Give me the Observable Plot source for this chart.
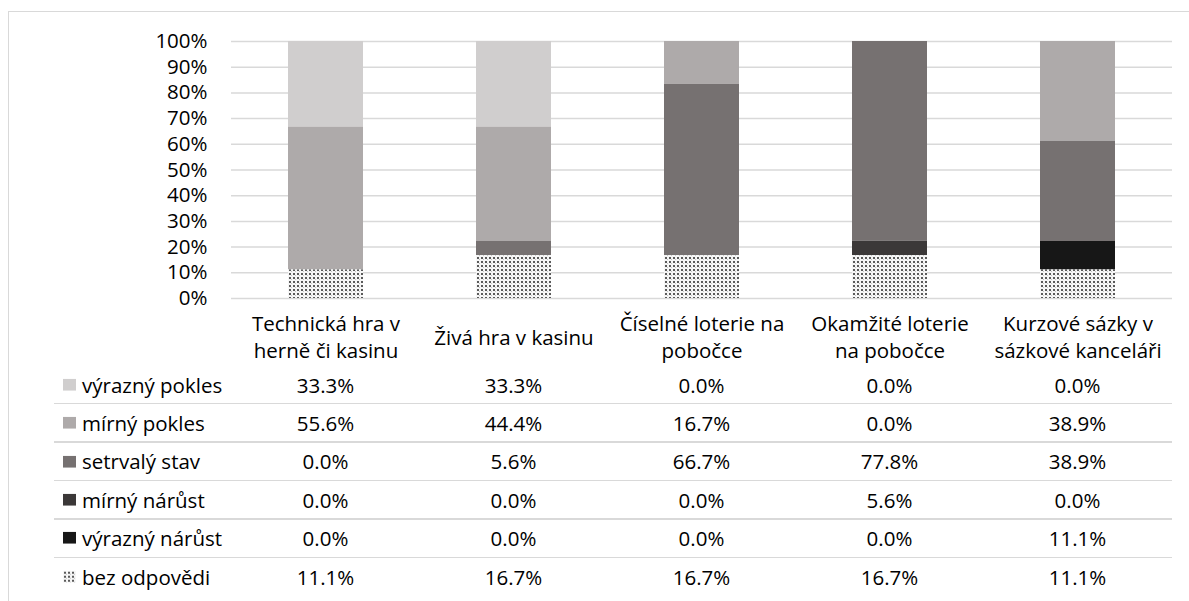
<!DOCTYPE html>
<html>
<head>
<meta charset="utf-8">
<script src="https://cdn.jsdelivr.net/npm/d3@7"></script>
<script src="https://cdn.jsdelivr.net/npm/@observablehq/plot@0.6"></script>
<style>
  html, body { margin: 0; padding: 0; background: #fff; overflow: hidden; }
  #wrap { position: relative; width: 1189px; height: 601px; font-family: "Open Sans", sans-serif; color: #000; }
  #frame { position: absolute; left: 8px; top: 11px; width: 1300px; height: 700px; border-left: 1.5px solid #d9d9d9; border-top: 1.5px solid #d9d9d9; }
  #chart { position: absolute; left: 0; top: 0; }
  .cell { position: absolute; font-size: 20.5px; line-height: 1; white-space: nowrap; transform: translate(-50%, -50%); }
  .rowlabel { position: absolute; font-size: 20.5px; line-height: 1; white-space: nowrap; transform: translateY(-50%); display: flex; align-items: center; }
  .sep { position: absolute; height: 1.5px; background: #d9d9d9; }
</style>
</head>
<body>
<div id="wrap"><div id="frame"></div><div id="chart"></div></div>
<script>
const categories = [
  "Technická hra v\nherně či kasinu",
  "Živá hra v kasinu",
  "Číselné loterie na\npobočce",
  "Okamžité loterie\nna pobočce",
  "Kurzové sázky v\nsázkové kanceláři"
];
const series = ["výrazný pokles", "mírný pokles", "setrvalý stav", "mírný nárůst", "výrazný nárůst", "bez odpovědi"];
const seriesColors = ["#d0cece", "#aeaaaa", "#767171", "#3b3838", "#171717", "url(#dots)"];
const vyraznyPokles = [33.3, 33.3, 0.0, 0.0, 0.0];
const mirnyPokles   = [55.6, 44.4, 16.7, 0.0, 38.9];
const setrvalyStav  = [0.0, 5.6, 66.7, 77.8, 38.9];
const mirnyNarust   = [0.0, 0.0, 0.0, 5.6, 0.0];
const vyraznyNarust = [0.0, 0.0, 0.0, 0.0, 11.1];
const bezOdpovedi   = [11.1, 16.7, 16.7, 16.7, 11.1];
const yTicks = [0, 0.1, 0.2, 0.3, 0.4, 0.5, 0.6, 0.7, 0.8, 0.9, 1];

const seriesValues = [vyraznyPokles, mirnyPokles, setrvalyStav, mirnyNarust, vyraznyNarust, bezOdpovedi];
const rows = series.flatMap((s, i) => categories.map((c, j) => ({cat: c, series: s, value: seriesValues[i][j]})));

const fontFamily = '"Open Sans", sans-serif';
const fs = 20.5;

function defsMark() {
  const defs = d3.create("svg:defs");
  const p = defs.append("pattern").attr("id", "dots").attr("patternUnits", "userSpaceOnUse")
    .attr("width", 4).attr("height", 4);
  p.append("rect").attr("width", 4).attr("height", 4).attr("fill", "#f6f6f6");
  p.append("rect").attr("x", 1).attr("y", 1).attr("width", 2).attr("height", 2).attr("fill", "#5a5a5a");
  p.append("rect").attr("x", 3).attr("y", 3).attr("width", 1).attr("height", 1).attr("fill", "#c4c4c4");
  return defs.node();
}

const chart = Plot.plot({
  width: 1189,
  height: 400,
  marginLeft: 231,
  marginRight: 17,
  marginTop: 41,
  marginBottom: 102,
  style: {fontFamily, fontSize: fs + "px", color: "#000", background: "transparent"},
  x: {domain: categories, paddingInner: 0.6, paddingOuter: 0.3, axis: null},
  y: {domain: [0, 1], axis: null},
  color: {domain: series, range: seriesColors},
  marks: [
    defsMark,
    Plot.ruleY(yTicks, {stroke: "#d9d9d9", strokeWidth: 1.5}),
    Plot.barY(rows, Plot.stackY({x: "cat", y: "value", fill: "series", order: [...series].reverse(), offset: "normalize"})),
    Plot.axisY(yTicks, {tickSize: 0, tickPadding: 24, tickFormat: d3.format(".0%"), label: null, fontSize: fs, fill: "#000"}),
    Plot.text(categories, {x: d => d, text: d => d, frameAnchor: "bottom", dy: 37.5, lineAnchor: "middle", lineHeight: 1.3, fontSize: fs, fill: "#000"})
  ]
});
document.getElementById("chart").appendChild(chart);

const wrap = document.getElementById("wrap");
const xs = chart.scale("x");
const rowTop = 384.5, rowH = 38.4;

series.forEach((s, i) => {
  const cy = rowTop + i * rowH;
  const lab = document.createElement("div");
  lab.className = "rowlabel";
  lab.style.left = "63px";
  lab.style.top = cy + "px";
  const sw = document.createElementNS("http://www.w3.org/2000/svg", "svg");
  sw.setAttribute("width", 13); sw.setAttribute("height", 12);
  sw.style.marginRight = "6px";
  const r = document.createElementNS("http://www.w3.org/2000/svg", "rect");
  r.setAttribute("width", 13); r.setAttribute("height", 12);
  r.setAttribute("fill", seriesColors[i]);
  sw.appendChild(r);
  lab.appendChild(sw);
  lab.appendChild(document.createTextNode(s));
  wrap.appendChild(lab);
  categories.forEach((c, j) => {
    const cell = document.createElement("div");
    cell.className = "cell";
    cell.style.left = (xs.apply(c) + xs.bandwidth / 2) + "px";
    cell.style.top = cy + "px";
    cell.textContent = seriesValues[i][j].toFixed(1) + "%";
    wrap.appendChild(cell);
  });
  if (i < series.length - 1) {
    const sep = document.createElement("div");
    sep.className = "sep";
    sep.style.left = "54px";
    sep.style.width = (1172 - 54) + "px";
    sep.style.top = (cy + rowH / 2 - 0.75) + "px";
    wrap.appendChild(sep);
  }
});
</script>
</body>
</html>
